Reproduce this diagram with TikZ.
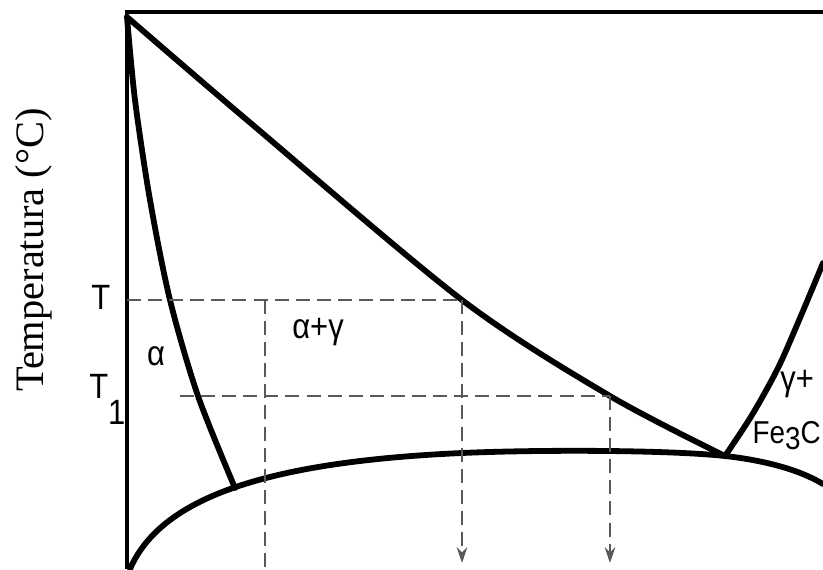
\documentclass[tikz,border=0pt]{standalone}
\usepackage{fontspec}
\setmainfont{Liberation Serif}
\newfontfamily\lblfont[FakeStretch=0.88]{Liberation Sans}
\usetikzlibrary{arrows.meta,positioning}

\begin{document}
\begin{tikzpicture}[x=0.02cm,y=-0.02cm,
    phase/.style={line width=3.3pt,line join=round,line cap=round},
    guide/.style={black!65,line width=1.4pt,dash pattern=on 8pt off 4pt},
    lbl/.style={font=\lblfont\fontsize{20}{20}\selectfont,inner sep=0pt}]
  \useasboundingbox (0,0) rectangle (823,569);
  % Key points of the diagram
  \coordinate (orig) at (127,569);
  \coordinate (topR) at (823,12);
  \coordinate (top) at (127,17);
  \coordinate (eut) at (725,456);
  \coordinate (asol) at (235,488);
  \coordinate (Tax) at (127,300);
  \coordinate (Tliq) at (462,300);
  \coordinate (T1st) at (180,396);
  \coordinate (T1liq) at (610,396);
  \coordinate (Tmid) at (265,300);
  % Frame
  \draw[line width=2pt] (orig) |- (topR);
  % Phase boundaries
  \draw[phase] plot[smooth] coordinates {(top) (247,120) (Tliq) (T1liq) (eut)};
  \draw[phase] plot[smooth] coordinates {(top) (135,100) (150,200) (170,300) (198,396) (asol)};
  \draw[phase] (130,569) .. controls (160,500) and (260,462) .. (462,453)
    .. controls (540,449.5) and (670,450) .. (eut)
    .. controls (765,460.4) and (800,470) .. (823,484);
  \draw[phase] plot[smooth] coordinates {(eut) (752,415) (778,368) (800,318) (823,263)};
  % Isotherms T and T1
  \draw[guide] (Tax) -- (Tliq);
  \draw[guide] (T1st) -- (T1liq);
  \draw[guide] (Tmid) -- (Tmid |- orig);
  \draw[guide,-{Stealth[length=9pt,width=6pt]}] (Tliq) -- (Tliq |- 0,563);
  \draw[guide,-{Stealth[length=9pt,width=6pt]}] (T1liq) -- (T1liq |- 0,563);
  % Labels
  \node[lbl,anchor=north west] (Tlab) at (91,285) {T};
  \node[lbl,anchor=north west] (T1lab) at (89,374) {T\raisebox{-0.75em}{1}};
  \node[lbl,anchor=base] (alab) at (156,365) {α};
  \node[lbl,anchor=base west] (aglab) at (292,338) {α+γ};
  \node[lbl,anchor=base west] (gclab) at (780,390) {γ+};
  \node[lbl,anchor=base east,font=\lblfont\fontsize{18}{18}\selectfont] (fclab) at (821,443) {Fe\raisebox{-0.2em}{3}C};
  \node[rotate=90,font=\fontsize{23}{23}\selectfont] (ylab) at (34,250) {Temperatura (°C)};
\end{tikzpicture}
\end{document}
